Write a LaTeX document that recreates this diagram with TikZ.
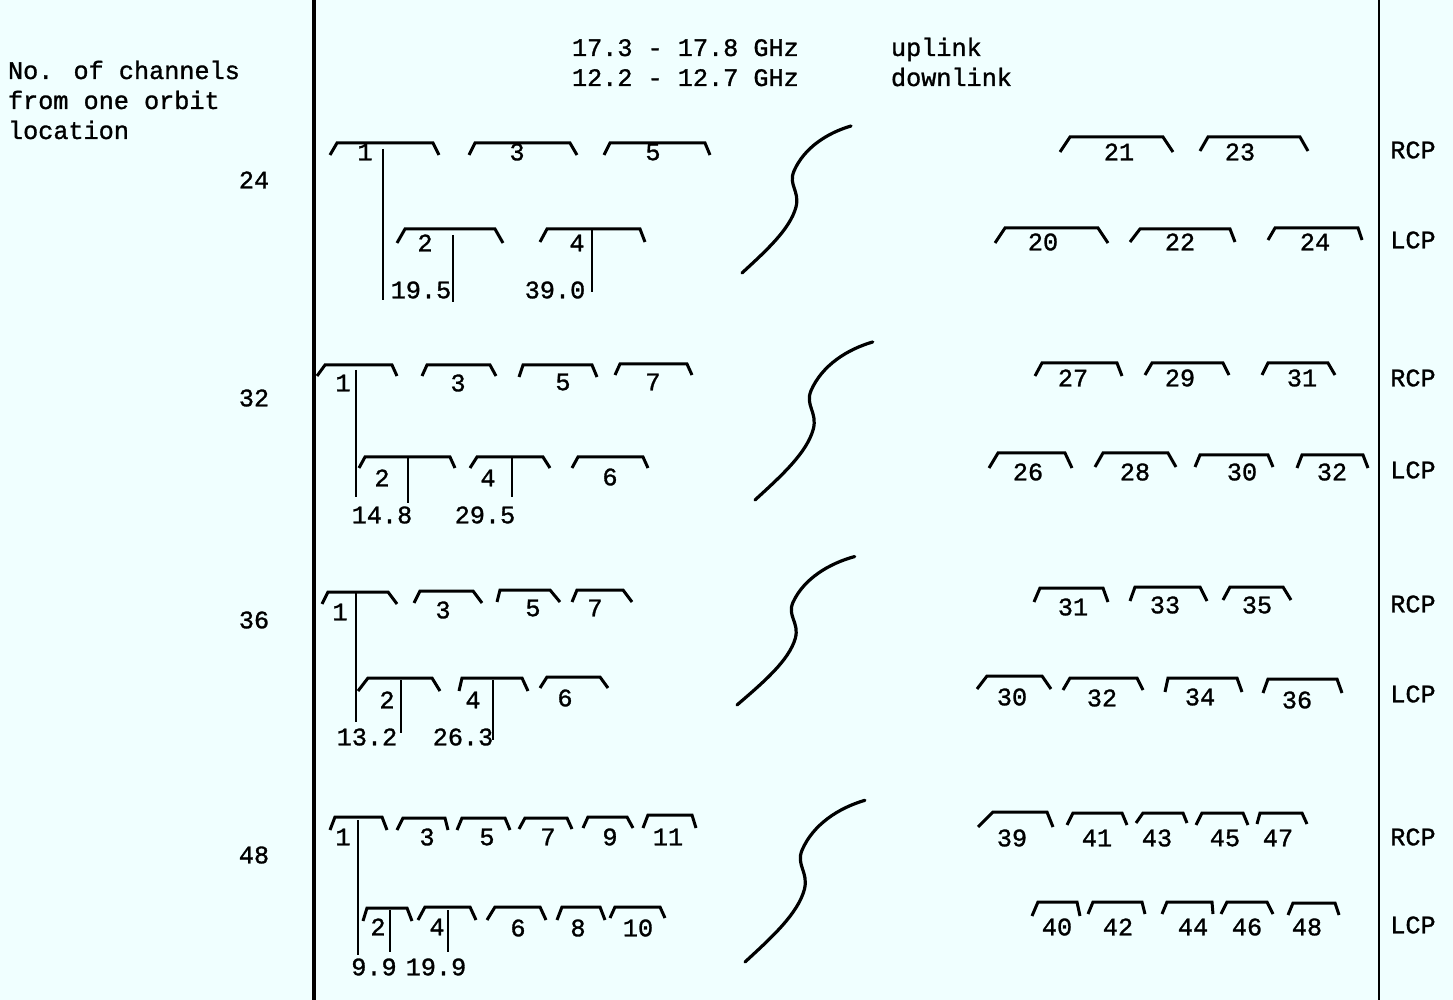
\documentclass[tikz,border=0pt]{standalone}
\usepackage{fontspec}
\setmainfont{Liberation Mono}[FakeBold=1.2]
\setmonofont{Liberation Mono}[FakeBold=1.2]
\definecolor{bg}{HTML}{F0FFFF}
\begin{document}
\begin{tikzpicture}[x=0.5pt,y=-0.5pt,
  every node/.style={font=\fontsize{12.6}{15}\selectfont, inner sep=0pt, outer sep=0pt},
  brk/.style={line width=1.5pt, line join=miter},
  tick/.style={line width=1pt},
  axisl/.style={line width=2pt},
  axisr/.style={line width=1.3pt},
  wave/.style={line width=1.6pt, line cap=round},
  lab/.style={anchor=center},
  txt/.style={anchor=base west}]
\fill[bg] (0,0) rectangle (1453,1000);
\useasboundingbox (0,0) rectangle (1453,1000);

% frame lines
\draw[axisl] (314,0) -- (314,1000);
\draw[axisr] (1379,0) -- (1379,1000);

% left captions
\node[txt] (t1) at (8,79) {No. of channels};
\node[txt] (t2) at (8,109) {from one orbit};
\node[txt] (t3) at (8,139) {location};
\node[lab] (n24) at (254,180) {24};
\node[lab] (n32) at (254,398) {32};
\node[lab] (n36) at (254,620) {36};
\node[lab] (n48) at (254,855) {48};

% header
\node[txt] (h1) at (572,56) {17.3 - 17.8 GHz};
\node[txt] (h2) at (572,86) {12.2 - 12.7 GHz};
\node[txt] (h3) at (891,56) {uplink};
\node[txt] (h4) at (891,86) {downlink};

% polarisation labels
\foreach \r/\y/\t in {aR/150/RCP, aL/240/LCP, bR/378/RCP, bL/470/LCP,
                     cR/604/RCP, cL/694/LCP, dR/837/RCP, dL/925/LCP}
  \node[lab] (p\r) at (1413,\y) {\t};

% channel brackets
\foreach \r/\n/\xa/\xb/\xc/\xd/\yt/\yb/\lx/\ly in {
  a/1/330/337/433/439/143/155/365/152,
  a/3/469/475/570/577/143/155/517/152,
  a/5/604/610/705/710/143/155/653/152,
  a/21/1060/1070/1163/1173/137/152/1119/152,
  a/23/1200/1208/1300/1308/137/151/1240/152,
  a/2/397/405/495/503/229/243/425/243,
  a/4/540/547/640/645/229/242/577/243,
  a/20/995/1005/1098/1108/228/243/1043/242,
  a/22/1130/1140/1230/1235/229/242/1180/242,
  a/24/1268/1275/1358/1362/228/240/1315/242,
  b/1/317/325/392/397/365/376/343/383,
  b/3/422/427/490/496/365/376/458/383,
  b/5/519/523/592/597/365/377/563/382,
  b/7/615/620/687/692/364/375/653/382,
  b/27/1035/1042/1117/1122/363/376/1073/378,
  b/29/1145/1152/1223/1229/363/375/1180/378,
  b/31/1262/1268/1328/1335/363/375/1302/378,
  b/2/359/365/450/455/457/468/382/478,
  b/4/470/477/543/550/457/468/488/478,
  b/6/572/578/643/648/457/468/610/477,
  b/26/989/998/1065/1072/453/468/1028/472,
  b/28/1095/1103/1168/1176/453/467/1135/472,
  b/30/1195/1200/1268/1273/455/467/1242/472,
  b/32/1297/1302/1363/1368/455/468/1332/472,
  c/1/322/328/388/397/592/604/340/612,
  c/3/414/420/473/482/591/603/443/610,
  c/5/497/500/550/560/590/602/533/608,
  c/7/572/577/623/632/590/602/595/608,
  c/31/1034/1040/1103/1108/588/602/1073/607,
  c/33/1130/1135/1200/1207/587/601/1165/605,
  c/35/1223/1230/1283/1291/587/600/1257/605,
  c/2/358/368/432/440/678/691/387/700,
  c/4/459/462/522/528/678/691/473/700,
  c/6/540/547/600/608/677/688/565/698,
  c/30/977/987/1042/1051/676/689/1012/697,
  c/32/1063/1070/1137/1143/678/690/1102/698,
  c/34/1165/1168/1237/1242/678/692/1200/697,
  c/36/1263/1268/1337/1342/679/693/1297/700,
  d/1/330/335/382/387/817/830/343/837,
  d/3/397/403/445/448/818/830/427/837,
  d/5/457/462/505/510/818/830/487/837,
  d/7/519/525/567/572/818/829/548/837,
  d/9/583/588/627/633/817/828/610/837,
  d/11/643/648/692/696/815/828/668/837,
  d/39/978/993/1047/1053/812/827/1012/838,
  d/41/1067/1073/1122/1127/813/825/1097/838,
  d/43/1136/1143/1183/1187/813/823/1157/838,
  d/45/1196/1202/1243/1248/813/825/1225/838,
  d/47/1257/1260/1302/1307/813/824/1278/838,
  d/2/363/367/407/412/908/921/378/927,
  d/4/418/425/470/476/907/920/437/927,
  d/6/487/495/540/546/907/920/518/928,
  d/8/557/562/600/605/907/920/578/928,
  d/10/610/615/660/665/907/918/638/928,
  d/40/1032/1038/1077/1080/902/916/1057/927,
  d/42/1088/1093/1142/1145/902/914/1118/927,
  d/44/1162/1167/1212/1213/902/914/1193/927,
  d/46/1221/1227/1267/1273/902/914/1247/927,
  d/48/1288/1293/1335/1339/903/915/1307/927}
{
  \draw[brk] (\xa,\yb) -- (\xb,\yt) -- (\xc,\yt) -- (\xd,\yb);
  \node[lab] (\r\n) at (\lx,\ly) {\n};
}

% spacing values and their markers
\node[lab] (av1) at (421,290) {19.5};
\node[lab] (av2) at (555,290) {39.0};
\draw[tick] (383,149) -- (383,300);
\draw[tick] (453,235) -- (453,302);
\draw[tick] (592,230) -- (592,292);

\node[lab] (bv1) at (382,515) {14.8};
\node[lab] (bv2) at (485,515) {29.5};
\draw[tick] (356,370) -- (356,497);
\draw[tick] (408,458) -- (408,503);
\draw[tick] (512,457) -- (512,497);

\node[lab] (cv1) at (367,737) {13.2};
\node[lab] (cv2) at (463,737) {26.3};
\draw[tick] (356,592) -- (356,722);
\draw[tick] (401,680) -- (401,733);
\draw[tick] (493,680) -- (493,740);

\node[lab] (dv1) at (374,967) {9.9};
\node[lab] (dv2) at (436,967) {19.9};
\draw[tick] (358,820) -- (358,955);
\draw[tick] (390,910) -- (390,952);
\draw[tick] (448,910) -- (448,952);

% break curves
\foreach \bx/\by/\sx/\sy in {742/273/1/1, 755/500/1.08/1.075, 737/705/1.08/1.01, 745/962/1.1/1.1}
  \draw[wave, shift={(\bx,\by)}, xscale=\sx, yscale=\sy]
    (0,0) .. controls (25,-23) and (48,-44) .. (54,-66)
          .. controls (58,-82) and (46,-88) .. (52,-102)
          .. controls (62,-125) and (85,-140) .. (109,-147);
\end{tikzpicture}
\end{document}
